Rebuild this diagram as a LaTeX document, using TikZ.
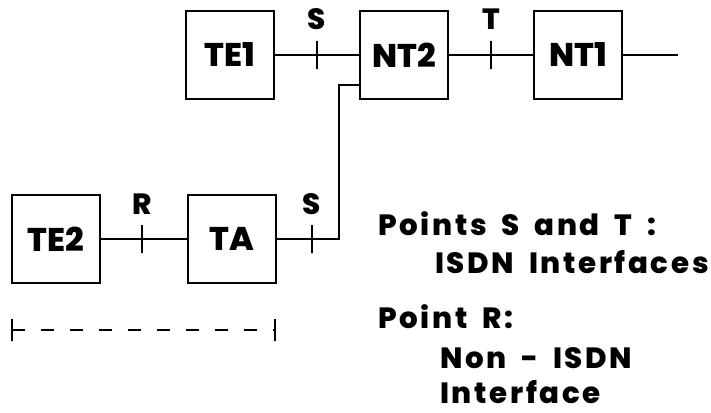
\documentclass[tikz,border=0pt]{standalone}
\usepackage{fontspec}
\setmainfont{Poppins}
\newfontfamily\notefont{Poppins}[UprightFont=* ExtraBold, LetterSpace=9, WordSpace=1.8]
\newfontfamily\unitfont{Poppins}[UprightFont=* ExtraBold]
\usepackage{tikz}
\usetikzlibrary{positioning}

\begin{document}
\begin{tikzpicture}[
    x=0.03cm, y=-0.03cm,
    every node/.style={font=\fontsize{25}{28}\notefont},
    unit/.style={
        rectangle, draw, line width=1.8pt, minimum width=2.64cm,
        minimum height=2.64cm, inner sep=0pt,
        font=\fontsize{28}{32}\unitfont
    },
    refpoint/.style={
        rectangle, draw, line width=1.5pt, minimum width=0pt,
        minimum height=0.84cm, inner sep=0pt
    },
    spanend/.style={refpoint, minimum height=0.66cm},
    wire/.style={line width=1.5pt},
    note/.style={anchor=base west, inner sep=0pt}
]
\useasboundingbox (0,0) rectangle (711,412);

% --- Functional groups (top row: TE1 - NT2 - NT1)
\node[unit] (te1) at (230,55) {TE1};
\node[unit] (nt2) at (404,55) {NT2};
\node[unit] (nt1) at (578,55) {NT1};
\coordinate (line) at (678,55);

% --- Bottom row: TE2 - TA
\node[unit] (te2) at (56,239) {TE2};
\node[unit] (ta)  at (232,239) {TA};

% Reference points
\node[refpoint, label={[inner sep=0pt, label distance=0.3cm]above:S}] (s1) at (317,55) {};
\node[refpoint, label={[inner sep=0pt, label distance=0.3cm]above:T}] (t)  at (491,55) {};
\node[refpoint, label={[inner sep=0pt, label distance=0.27cm]above:R}] (r)  at (142,239) {};
\node[refpoint, label={[inner sep=0pt, label distance=0.27cm]above:S}] (s2) at (312,239) {};

% Connections
\draw[wire] (te1) -- (s1.center) -- (nt2);
\draw[wire] (nt2) -- (t.center) -- (nt1);
\draw[wire] (nt1) -- (line);
\draw[wire] (te2) -- (r.center) -- (ta);
\coordinate (bend) at (339,85);
\draw[wire] (ta) -- (s2.center) -| (bend) -- (bend -| nt2.west);

% Span under TE2 and TA
\node[spanend] (span l) at (12,330) {};
\node[spanend] (span r) at (275,330) {};
\draw[wire, dash pattern=on 0.39cm off 0.48cm] (span l.center) -- (span r.center);

% Notes
\node[note] (n1) at (378,235) {Points S and T :};
\node[note] (n2) at (435,273) {ISDN Interfaces};
\node[note] (n3) at (378,328) {Point R:};
\node[note] (n4) at (440,368) {Non - ISDN};
\node[note] (n5) at (440,403) {Interface};
\end{tikzpicture}
\end{document}
